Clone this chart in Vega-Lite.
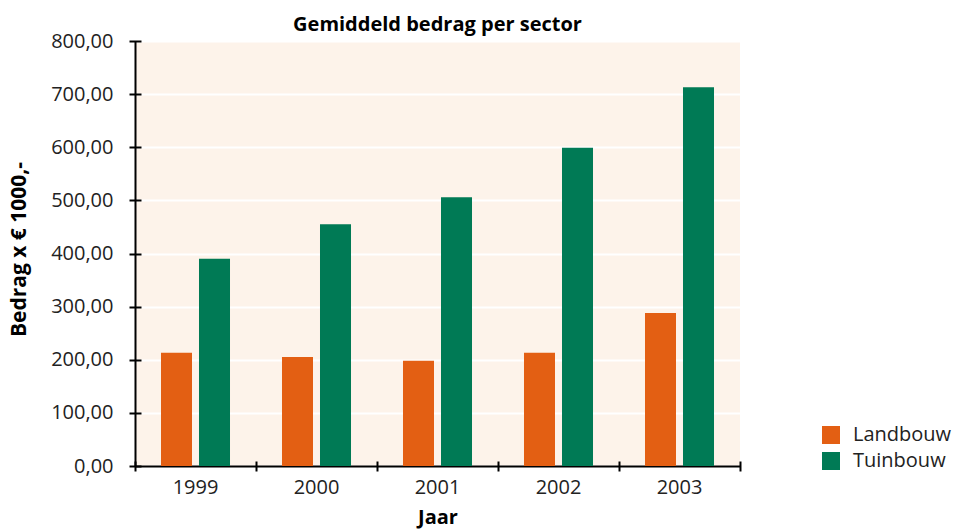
{
  "$schema": "https://vega.github.io/schema/vega-lite/v6.json",
  "width": 605,
  "height": 425,
  "autosize": {"type": "none"},
  "padding": {"left": 135, "top": 41, "right": 217, "bottom": 63},
  "background": "white",
  "title": {"text": "Gemiddeld bedrag per sector", "font": "Open Sans", "fontSize": 20, "fontWeight": "bold", "color": "#000000", "anchor": "middle", "frame": "group", "baseline": "alphabetic", "offset": 9, "dy": 29},
  "config": {
    "view": {"fill": "#fdf3ea", "stroke": null},
    "font": "Open Sans"
  },
  "data": {"values": [
    {"jaar": "1999", "sector": "Landbouw", "bedrag": 213},
    {"jaar": "1999", "sector": "Tuinbouw", "bedrag": 390},
    {"jaar": "2000", "sector": "Landbouw", "bedrag": 205},
    {"jaar": "2000", "sector": "Tuinbouw", "bedrag": 455},
    {"jaar": "2001", "sector": "Landbouw", "bedrag": 198},
    {"jaar": "2001", "sector": "Tuinbouw", "bedrag": 506},
    {"jaar": "2002", "sector": "Landbouw", "bedrag": 213},
    {"jaar": "2002", "sector": "Tuinbouw", "bedrag": 599},
    {"jaar": "2003", "sector": "Landbouw", "bedrag": 288},
    {"jaar": "2003", "sector": "Tuinbouw", "bedrag": 713}
  ]},
  "resolve": {"axis": {"x": "independent", "y": "independent"}},
  "layer": [
    {
      "mark": {"type": "bar"},
      "encoding": {
        "x": {"field": "jaar", "type": "nominal", "scale": {"paddingInner": 0, "paddingOuter": 0},
          "axis": {"orient": "bottom", "title": "Jaar", "titleFontSize": 20, "titleFontWeight": "bold", "titleColor": "#000", "titleX": 302.5, "titleY": 51, "titleBaseline": "middle", "labelAngle": 0, "labelFontSize": 20, "labelColor": "#222", "labelPadding": 11, "ticks": false, "domain": true, "domainColor": "#000", "domainWidth": 2, "grid": false}},
        "xOffset": {"field": "sector", "type": "nominal", "scale": {"paddingInner": 0.184, "paddingOuter": 0.684}},
        "y": {"field": "bedrag", "type": "quantitative", "scale": {"domain": [0, 800], "nice": false},
          "axis": {"orient": "left", "title": "Bedrag x € 1000,-", "titleFontSize": 21, "titleFontWeight": "bold", "titleColor": "#000", "titleX": -116, "titleY": 208, "titleAngle": -90, "titleBaseline": "middle", "titleAlign": "center", "values": [0, 100, 200, 300, 400, 500, 600, 700, 800], "labelExpr": "replace(format(datum.value, '.2f'), '.', ',')", "labelFontSize": 20, "labelColor": "#222", "labelPadding": 22, "ticks": false, "domain": true, "domainColor": "#000", "domainWidth": 2, "grid": true, "gridColor": "#ffffff", "gridWidth": 2}},
        "color": {"field": "sector", "type": "nominal", "scale": {"domain": ["Landbouw", "Tuinbouw"], "range": ["#e35f13", "#007a55"]},
          "legend": {"orient": "none", "legendX": 686, "legendY": 384, "title": null, "symbolType": "square", "symbolSize": 324, "symbolStrokeWidth": 0, "symbolOpacity": 1, "labelFontSize": 20, "labelColor": "#222", "labelOffset": 12, "rowPadding": 6}}
      }
    },
    {
      "mark": {"type": "bar", "opacity": 0},
      "encoding": {
        "x": {"field": "jaar", "type": "nominal",
          "axis": {"orient": "bottom", "offset": -5, "tickSize": 10, "tickWidth": 2, "tickColor": "#000", "tickBand": "extent", "domain": false, "labels": false, "title": null, "grid": false}},
        "xOffset": {"field": "sector", "type": "nominal"},
        "y": {"field": "bedrag", "type": "quantitative",
          "axis": {"orient": "left", "offset": -6, "tickSize": 12, "tickWidth": 2, "tickColor": "#000", "values": [0, 100, 200, 300, 400, 500, 600, 700, 800], "domain": false, "labels": false, "title": null, "grid": false}}
      }
    }
  ]
}
